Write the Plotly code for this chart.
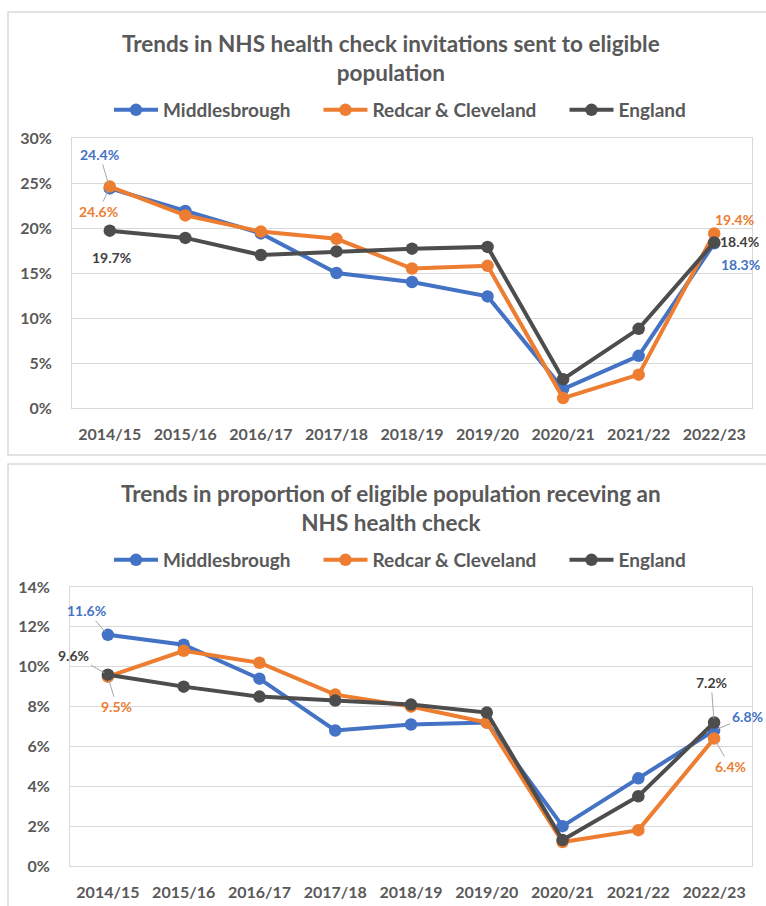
import plotly.graph_objects as go

W, H = 766, 906

years = ["2014/15", "2015/16", "2016/17", "2017/18", "2018/19",
         "2019/20", "2020/21", "2021/22", "2022/23"]

# Chart 1: invitations sent (%)
inv_mid = [24.4, 21.9, 19.4, 15.0, 14.0, 12.4, 2.1, 5.8, 18.3]
inv_red = [24.6, 21.4, 19.6, 18.8, 15.5, 15.8, 1.1, 3.7, 19.4]
inv_eng = [19.7, 18.9, 17.0, 17.4, 17.7, 17.9, 3.2, 8.8, 18.4]

# Chart 2: proportion receiving a check (%)
rec_mid = [11.6, 11.1, 9.4, 6.8, 7.1, 7.2, 2.0, 4.4, 6.8]
rec_red = [9.5, 10.8, 10.2, 8.6, 8.0, 7.2, 1.2, 1.8, 6.4]
rec_eng = [9.6, 9.0, 8.5, 8.3, 8.1, 7.7, 1.3, 3.5, 7.2]

series_names = ["Middlesbrough", "Redcar & Cleveland", "England"]
colors = ["#4472C4", "#ED7D31", "#4d4d4d"]

title1 = "Trends in NHS health check invitations sent to eligible<br>population"
title2 = "Trends in proportion of eligible population receving an<br>NHS health check"

FONT = "Lato, Calibri, Roboto, sans-serif"
GRAY = "#595959"
GRID = "#d9d9d9"
PAD = "\u00a0" * 5


def px(x):
    return x / W


def py(y):
    return 1 - y / H


fig = go.Figure()

for data, xa, ya, leg in [
    ([inv_mid, inv_red, inv_eng], "x", "y", "legend"),
    ([rec_mid, rec_red, rec_eng], "x2", "y2", "legend2"),
]:
    for i, (vals, name, col) in enumerate(zip(data, series_names, colors)):
        fig.add_trace(go.Scatter(
            x=years, y=vals, name=name + (PAD if i < 2 else ""),
            mode="lines+markers",
            line=dict(color=col, width=4),
            marker=dict(color=col, size=12.5),
            xaxis=xa, yaxis=ya, legend=leg, hoverinfo="skip",
        ))

tickfont = dict(family=FONT, size=16, color=GRAY, weight="bold")
xcommon = dict(type="category", range=[-0.5, 8.5], showgrid=False,
               showline=True, linecolor=GRID, linewidth=1, mirror=True,
               zeroline=False, ticks="", tickfont=tickfont,
               ticklabelstandoff=12, automargin=False)
ycommon = dict(showgrid=True, gridcolor=GRID, gridwidth=1,
               showline=True, linecolor=GRID, linewidth=1, mirror=True,
               zeroline=False, ticks="", tickfont=tickfont,
               ticksuffix="%", ticklabelstandoff=16, automargin=False)

legfont = dict(family=FONT, size=19, color=GRAY, weight="bold")

fig.update_layout(
    width=W, height=H, autosize=False,
    margin=dict(l=0, r=0, t=0, b=0, pad=0, autoexpand=False),
    paper_bgcolor="white", plot_bgcolor="white",
    font=dict(family=FONT, color=GRAY),
    xaxis=dict(domain=[px(72), px(752)], anchor="y", **xcommon),
    yaxis=dict(domain=[py(408), py(138)], anchor="x", range=[0, 30],
               dtick=5, **ycommon),
    xaxis2=dict(domain=[px(70), px(752)], anchor="y2", **xcommon),
    yaxis2=dict(domain=[py(866), py(587)], anchor="x2", range=[0, 14],
                dtick=2, **ycommon),
    legend=dict(orientation="h", x=px(400), xanchor="center",
                y=py(110), yanchor="middle", itemwidth=44,
                font=legfont, bgcolor="rgba(0,0,0,0)"),
    legend2=dict(orientation="h", x=px(400), xanchor="center",
                 y=py(560), yanchor="middle", itemwidth=44,
                 font=legfont, bgcolor="rgba(0,0,0,0)"),
    showlegend=True,
)

# panel borders
for y0, y1 in [(12, 455), (464, 915)]:
    fig.add_shape(type="rect", xref="paper", yref="paper",
                  x0=px(8), x1=px(775), y0=py(y1), y1=py(y0),
                  line=dict(color=GRID, width=1.5), layer="below")

# titles
for txt, yc in [(title1, 58), (title2, 508)]:
    fig.add_annotation(text=txt, xref="paper", yref="paper",
                       x=px(391), y=py(yc), xanchor="center", yanchor="middle",
                       showarrow=False,
                       font=dict(family=FONT, size=22.5, color=GRAY, weight="bold"))

LBL = dict(family=FONT, size=14, weight="bold")
LEAD = "#a6a6a6"


def label_arrow(xa, ya, xv, yv, text, col, ax, ay):
    fig.add_annotation(x=xv, y=yv, xref=xa, yref=ya, text=text,
                       showarrow=True, arrowhead=0, arrowwidth=1,
                       arrowcolor=LEAD, ax=ax, ay=ay, standoff=4,
                       font=dict(color=col, **LBL))


def label_shift(xa, ya, xv, yv, text, col, xs, ys):
    fig.add_annotation(x=xv, y=yv, xref=xa, yref=ya, text=text,
                       showarrow=False, xshift=xs, yshift=ys,
                       font=dict(color=col, **LBL))


first, last = years[0], years[-1]
# chart 1 labels
label_arrow("x", "y", first, inv_mid[0], f"{inv_mid[0]}%", colors[0], -10, -34)
label_arrow("x", "y", first, inv_red[0], f"{inv_red[0]}%", colors[1], -11, 25)
label_shift("x", "y", first, inv_eng[0], f"{inv_eng[0]}%", "#404040", 2, -27)
label_shift("x", "y", last, inv_red[-1], f"{inv_red[-1]}%", colors[1], 20, 14)
label_shift("x", "y", last, inv_eng[-1], f"{inv_eng[-1]}%", "#404040", 25, 1)
label_shift("x", "y", last, inv_mid[-1], f"{inv_mid[-1]}%", colors[0], 26, -21)

# chart 2 labels
label_arrow("x2", "y2", first, rec_mid[0], f"{rec_mid[0]}%", colors[0], -21, -24)
label_arrow("x2", "y2", first, rec_eng[0], f"{rec_eng[0]}%", "#404040", -34, -19)
label_arrow("x2", "y2", first, rec_red[0], f"{rec_red[0]}%", colors[1], 9, 30)
label_arrow("x2", "y2", last, rec_eng[-1], f"{rec_eng[-1]}%", "#404040", -3, -40)
label_arrow("x2", "y2", last, rec_mid[-1], f"{rec_mid[-1]}%", colors[0], 33, -14)
label_arrow("x2", "y2", last, rec_red[-1], f"{rec_red[-1]}%", colors[1], 16, 28)

fig.write_html(
    "out.html",
    config={"displayModeBar": False},
    post_script="document.body.style.margin='0';"
                "document.body.style.overflow='hidden';"
                "document.documentElement.style.overflow='hidden';",
)
